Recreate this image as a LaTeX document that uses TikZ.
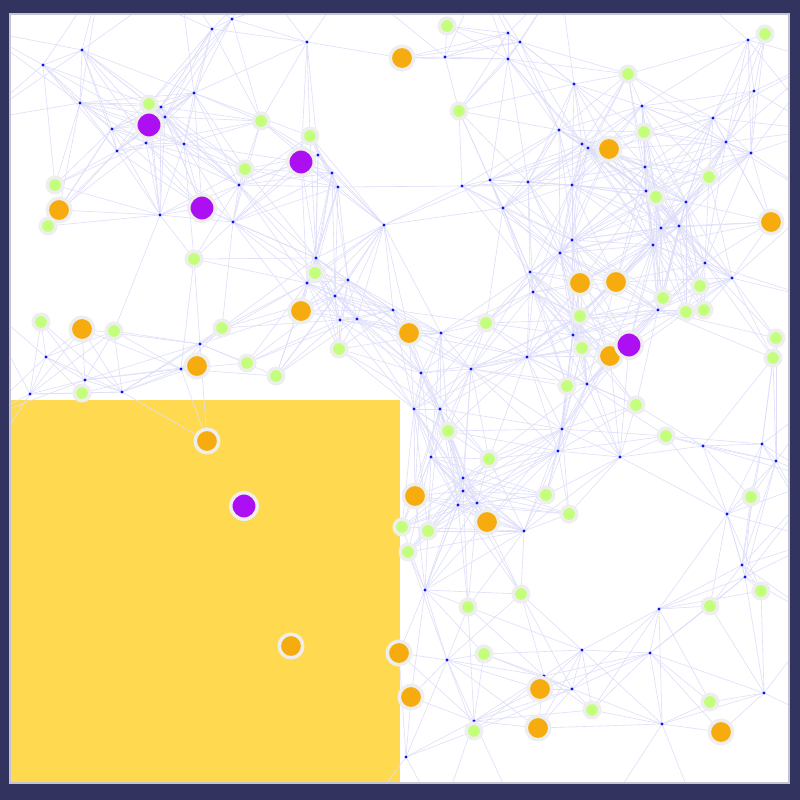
\documentclass[tikz,border=0pt]{standalone}
\usepackage{tikz}
\definecolor{navy}{HTML}{33335F}
\definecolor{edgegray}{HTML}{C4C4D2}
\definecolor{sq}{HTML}{FFDA50}
\definecolor{halo}{HTML}{EEEEEE}
\definecolor{orng}{HTML}{F6AC0E}
\definecolor{grn}{HTML}{C4FF7C}
\definecolor{purp}{HTML}{AC10F2}
\definecolor{lnk}{HTML}{DEDEFA}
\definecolor{bdot}{HTML}{0A14EE}
\tikzset{
  edgeline/.style={draw=lnk, line width=0.6pt},
  bluedot/.style={circle, fill=bdot, inner sep=0pt, minimum size=3.4pt},
  greenc/.style={circle, fill=grn, draw=halo, line width=3.5pt, inner sep=0pt, minimum size=15.5pt},
  orangec/.style={circle, fill=orng, draw=halo, line width=3.5pt, inner sep=0pt, minimum size=23.5pt},
  purplec/.style={circle, fill=purp, draw=halo, line width=3.5pt, inner sep=0pt, minimum size=26.5pt}
}
\def\thr{125}
\def\dotlist{82/50,43/65,80/103,112/129,165/117,161/107,146/143,184/144,117/151,212/29,232/19,307/42,318/155,332/173,338/187,239/185,194/93,160/215,233/222,384/225,445/57,508/33,520/42,508/59,574/84,748/40,754/91,642/106,713/118,726/142,645/167,751/153,646/191,559/130,582/144,588/148,462/186,490/180,528/182,572/185,503/208,572/240,560/253,530/272,533/292,686/202,661/228,679/226,653/245,705/263,732/278,658/310,441/333,421/373,471/369,527/357,414/409,440/409,574/320,573/335,587/384,562/429,558/451,431/457,463/478,463/491,458/505,477/503,524/531,425/590,447/660,544/676,582/650,572/689,474/721,406/757,620/457,703/446,762/444,776/461,727/514,742/565,745/577,659/609,650/653,662/724,764/693,46/357,85/380,30/394,122/392,181/369,200/344,316/258,307/283,335/296,348/280,340/320,357/319,393/310}
\def\greenlist{447/26,765/34,628/74,149/104,261/121,459/111,310/136,644/132,245/169,55/185,48/226,709/177,656/197,194/259,315/273,663/298,700/286,686/312,704/310,41/322,114/331,222/328,486/323,580/316,776/338,773/358,339/349,247/363,582/348,276/376,82/393,567/386,636/405,448/431,666/436,489/459,546/495,751/497,569/514,402/527,428/531,408/552,521/594,468/607,710/606,761/591,484/654,592/710,710/702,474/731}
\def\orangelist{402/58,609/149,59/210,771/222,580/283,616/282,301/311,82/329,409/333,197/366,610/356,207/441,415/496,487/522,291/646,399/653,540/689,411/697,538/728,721/732}
\def\purplelist{149/125,301/162,202/208,629/345,244/506}
\def\outlist{-20/30,-20/120,-20/200,-20/300,-20/420,-20/470,100/-20,180/-20,260/-20,350/-20,480/-20,560/-20,680/-20,820/60,820/130,820/200,820/300,820/400,820/480,820/540,820/620,820/720,700/820,600/820,520/820,440/820,360/820,760/820}
\begin{document}
\begin{tikzpicture}[x=1pt,y=-1pt]
\useasboundingbox (0,0) rectangle (800,800);
\fill[navy] (0,0) rectangle (800,800);
\fill[white] (10,14) rectangle (789,783);
\fill[sq] (10,400) rectangle (400,783);
% coordinates
\foreach \x/\y [count=\i] in \dotlist {\coordinate (d\i) at (\x,\y);}
\foreach \x/\y [count=\i] in \greenlist {\coordinate (g\i) at (\x,\y);}
\foreach \x/\y [count=\i] in \orangelist {\coordinate (o\i) at (\x,\y);}
\foreach \x/\y [count=\i] in \purplelist {\coordinate (p\i) at (\x,\y);}
\foreach \x/\y [count=\i] in \outlist {\coordinate (e\i) at (\x,\y);}
% links
\begin{scope}
\clip (10,14) rectangle (789,783);
\foreach \xa/\ya [count=\i] in \dotlist {
  \foreach \xb/\yb [count=\j] in \dotlist {
    \ifnum\j>\i
      \pgfmathsetmacro\dd{veclen((\xa)-(\xb),(\ya)-(\yb))}
      \ifdim\dd pt<\thr pt \draw[edgeline] (d\i) -- (d\j); \fi
    \fi
  }
  \foreach \xb/\yb [count=\j] in \greenlist {
      \pgfmathsetmacro\dd{veclen((\xa)-(\xb),(\ya)-(\yb))}
      \ifdim\dd pt<\thr pt \draw[edgeline] (d\i) -- (g\j); \fi
  }
  \foreach \xb/\yb [count=\j] in \orangelist {
      \pgfmathsetmacro\dd{veclen((\xa)-(\xb),(\ya)-(\yb))}
      \ifdim\dd pt<\thr pt \draw[edgeline] (d\i) -- (o\j); \fi
  }
  \foreach \xb/\yb [count=\j] in \purplelist {
      \pgfmathsetmacro\dd{veclen((\xa)-(\xb),(\ya)-(\yb))}
      \ifdim\dd pt<\thr pt \draw[edgeline] (d\i) -- (p\j); \fi
  }
  \foreach \xb/\yb [count=\j] in \outlist {
      \pgfmathsetmacro\dd{veclen((\xa)-(\xb),(\ya)-(\yb))}
      \ifdim\dd pt<\thr pt \draw[edgeline] (d\i) -- (e\j); \fi
  }
}
\end{scope}
% nodes
\foreach \x/\y [count=\i] in \dotlist {\node[bluedot] (D\i) at (\x,\y) {};}
\foreach \x/\y [count=\i] in \greenlist {\node[greenc] (G\i) at (\x,\y) {};}
\foreach \x/\y [count=\i] in \orangelist {\node[orangec] (O\i) at (\x,\y) {};}
\foreach \x/\y [count=\i] in \purplelist {\node[purplec] (P\i) at (\x,\y) {};}
\draw[edgegray, line width=1.2pt] (10,14) rectangle (789,783);
\end{tikzpicture}
\end{document}
